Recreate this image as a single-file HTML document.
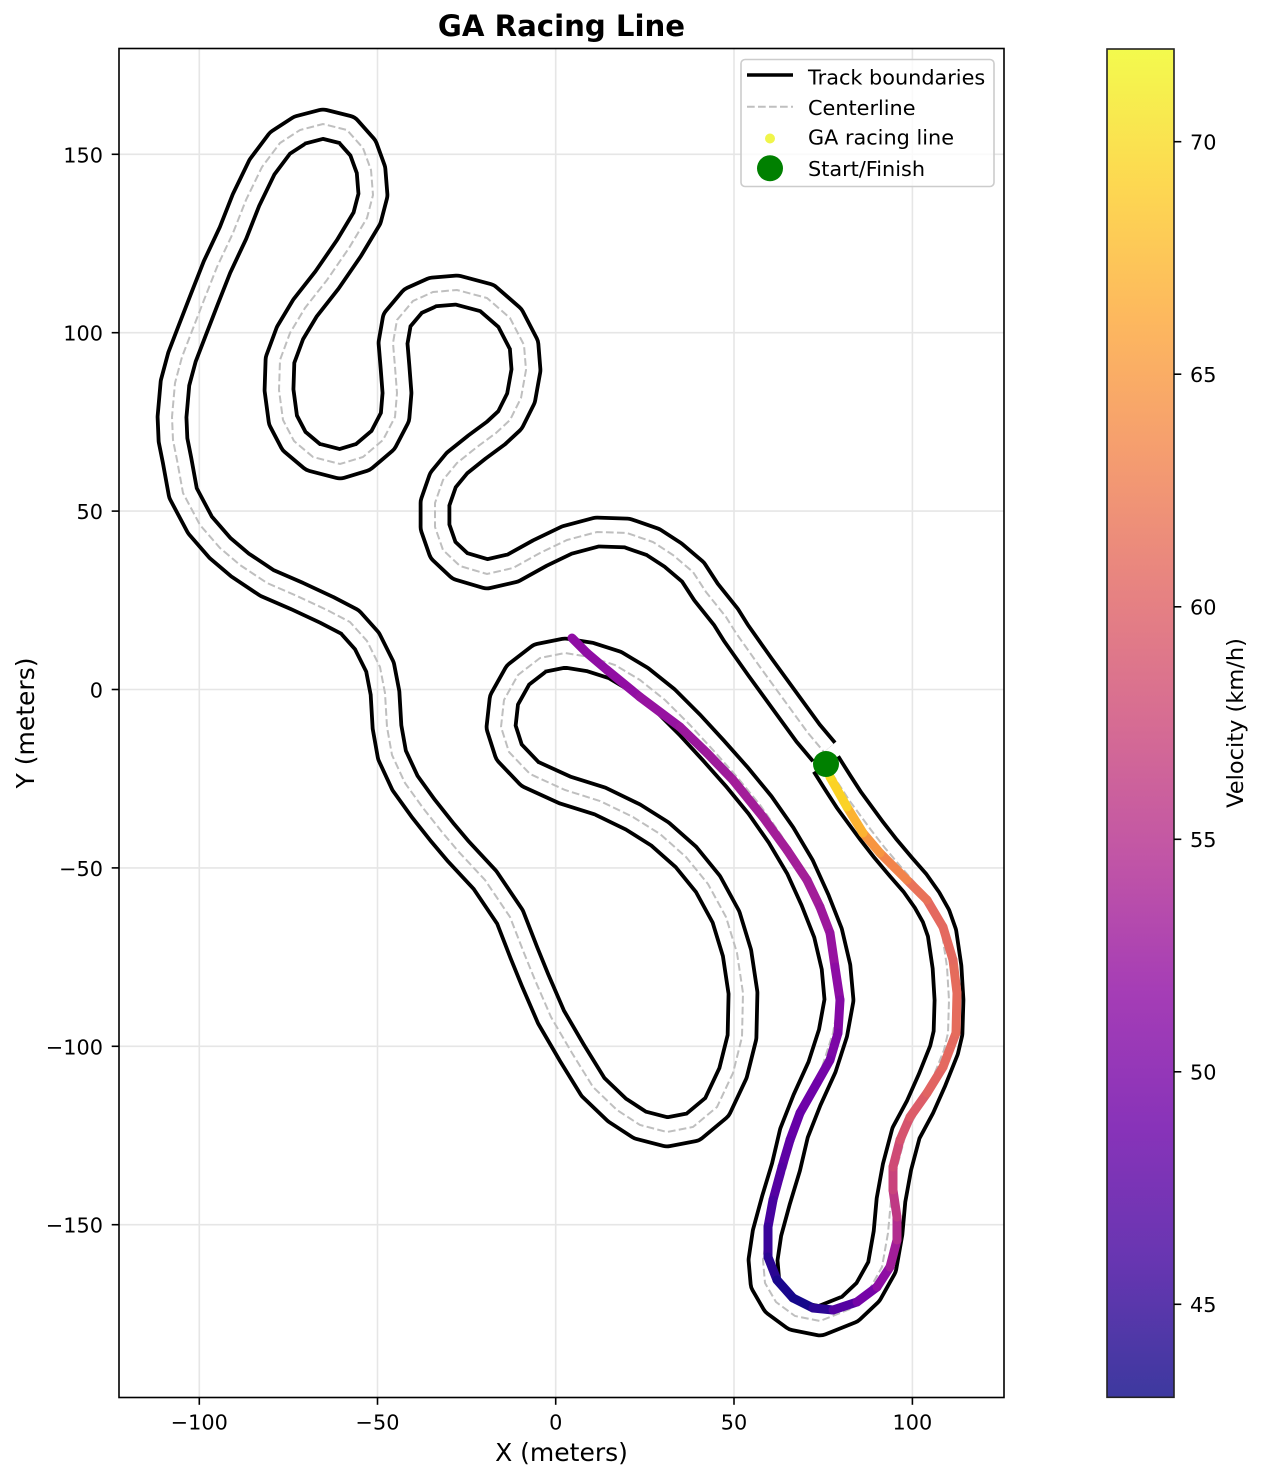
<!DOCTYPE html>
<html>
<head>
<meta charset="utf-8">
<style>
html,body{margin:0;padding:0;background:#fff}
svg{display:block}
text{font-family:"DejaVu Sans","Liberation Sans",sans-serif;fill:#000}
</style>
</head>
<body>
<svg width="1261" height="1480" viewBox="0 0 1261 1480" xmlns="http://www.w3.org/2000/svg">
<defs>
<linearGradient id="cb" x1="0" y1="0" x2="0" y2="1">
<stop offset="0" stop-color="#f3fa4d"/>
<stop offset="0.1" stop-color="#fdd851"/>
<stop offset="0.2" stop-color="#fdb85e"/>
<stop offset="0.3" stop-color="#f59d6f"/>
<stop offset="0.4" stop-color="#e78381"/>
<stop offset="0.5" stop-color="#d66c93"/>
<stop offset="0.6" stop-color="#c155a6"/>
<stop offset="0.7" stop-color="#a53db6"/>
<stop offset="0.8" stop-color="#8833b9"/>
<stop offset="0.9" stop-color="#6736b1"/>
<stop offset="1" stop-color="#3d399f"/>
</linearGradient>
<mask id="tm" maskUnits="userSpaceOnUse" x="0" y="0" width="1261" height="1480">
<path fill="none" stroke="#fff" stroke-width="32.6" stroke-linejoin="round" d="M826,764 L838,783 L849,800 L860,815 L871,830 L885,848 L901,867 L915,883 L927,900 L936,916 L942,933 L947,967 L949,1000 L948,1033 L944,1050 L932,1080 L920,1107 L906,1133 L897,1167 L891,1200 L888,1233 L882,1267 L868,1292 L850,1309 L820,1321 L795,1316 L776,1302 L765,1283 L763,1260 L767,1233 L776,1200 L786,1167 L794,1133 L807,1100 L822,1067 L833,1033 L839,1000 L836,967 L828,933 L815,900 L800,867 L781,835 L760,805 L737,777 L713,750 L690,725 L665,700 L640,680 L615,665 L590,657 L565,653 L540,658 L518,675 L504,700 L501,727 L509,752 L530,774 L565,790 L600,801 L633,817 L660,834 L686,857 L708,884 L726,917 L737,953 L743,993 L742,1037 L733,1073 L717,1107 L693,1127 L667,1132 L640,1125 L617,1110 L593,1087 L572,1053 L551,1017 L535,980 L524,953 L510,917 L485,880 L458,851 L442,832 L423,808 L405,783 L392,755 L387,727 L385,693 L380,667 L367,641 L350,622 L327,610 L297,596 L267,583 L240,565 L220,548 L200,525 L183,493 L177,460 L173,440 L172,417 L175,383 L182,357 L192,331 L204,300 L217,267 L233,233 L246,200 L262,167 L280,143 L300,130 L323,124 L347,130 L363,148 L371,170 L373,195 L367,218 L349,248 L327,280 L305,308 L290,333 L280,360 L279,390 L283,420 L294,441 L313,457 L340,464 L363,457 L383,440 L395,417 L397,393 L395,367 L393,343 L397,320 L413,301 L433,292 L457,290 L487,298 L510,318 L524,345 L526,370 L521,398 L510,420 L496,433 L477,447 L457,463 L443,480 L435,503 L435,527 L443,550 L460,566 L487,574 L513,568 L540,553 L567,540 L597,532 L627,533 L653,542 L673,555 L693,572 L706,592 L726,617 L736,633 L760,667 L784,700 L808,733 L824,752"/>
<path fill="none" stroke="#000" stroke-width="25" stroke-linejoin="round" d="M826,764 L838,783 L849,800 L860,815 L871,830 L885,848 L901,867 L915,883 L927,900 L936,916 L942,933 L947,967 L949,1000 L948,1033 L944,1050 L932,1080 L920,1107 L906,1133 L897,1167 L891,1200 L888,1233 L882,1267 L868,1292 L850,1309 L820,1321 L795,1316 L776,1302 L765,1283 L763,1260 L767,1233 L776,1200 L786,1167 L794,1133 L807,1100 L822,1067 L833,1033 L839,1000 L836,967 L828,933 L815,900 L800,867 L781,835 L760,805 L737,777 L713,750 L690,725 L665,700 L640,680 L615,665 L590,657 L565,653 L540,658 L518,675 L504,700 L501,727 L509,752 L530,774 L565,790 L600,801 L633,817 L660,834 L686,857 L708,884 L726,917 L737,953 L743,993 L742,1037 L733,1073 L717,1107 L693,1127 L667,1132 L640,1125 L617,1110 L593,1087 L572,1053 L551,1017 L535,980 L524,953 L510,917 L485,880 L458,851 L442,832 L423,808 L405,783 L392,755 L387,727 L385,693 L380,667 L367,641 L350,622 L327,610 L297,596 L267,583 L240,565 L220,548 L200,525 L183,493 L177,460 L173,440 L172,417 L175,383 L182,357 L192,331 L204,300 L217,267 L233,233 L246,200 L262,167 L280,143 L300,130 L323,124 L347,130 L363,148 L371,170 L373,195 L367,218 L349,248 L327,280 L305,308 L290,333 L280,360 L279,390 L283,420 L294,441 L313,457 L340,464 L363,457 L383,440 L395,417 L397,393 L395,367 L393,343 L397,320 L413,301 L433,292 L457,290 L487,298 L510,318 L524,345 L526,370 L521,398 L510,420 L496,433 L477,447 L457,463 L443,480 L435,503 L435,527 L443,550 L460,566 L487,574 L513,568 L540,553 L567,540 L597,532 L627,533 L653,542 L673,555 L693,572 L706,592 L726,617 L736,633 L760,667 L784,700 L808,733 L824,752"/>
</mask>
</defs>

<!-- grid -->
<g stroke="#e6e6e6" stroke-width="1.6">
<line x1="199.3" y1="48.5" x2="199.3" y2="1397.5"/>
<line x1="377.5" y1="48.5" x2="377.5" y2="1397.5"/>
<line x1="555.7" y1="48.5" x2="555.7" y2="1397.5"/>
<line x1="734" y1="48.5" x2="734" y2="1397.5"/>
<line x1="912.4" y1="48.5" x2="912.4" y2="1397.5"/>
<line x1="119" y1="154.3" x2="1004" y2="154.3"/>
<line x1="119" y1="332.7" x2="1004" y2="332.7"/>
<line x1="119" y1="511.1" x2="1004" y2="511.1"/>
<line x1="119" y1="689.5" x2="1004" y2="689.5"/>
<line x1="119" y1="867.9" x2="1004" y2="867.9"/>
<line x1="119" y1="1046.3" x2="1004" y2="1046.3"/>
<line x1="119" y1="1224.7" x2="1004" y2="1224.7"/>
</g>

<!-- track boundaries -->
<rect x="0" y="0" width="1261" height="1480" fill="#000" mask="url(#tm)"/>

<!-- centerline -->
<path fill="none" stroke="#bfbfbf" stroke-width="2" stroke-dasharray="7.7,3.3" d="M826,764 L838,783 L849,800 L860,815 L871,830 L885,848 L901,867 L915,883 L927,900 L936,916 L942,933 L947,967 L949,1000 L948,1033 L944,1050 L932,1080 L920,1107 L906,1133 L897,1167 L891,1200 L888,1233 L882,1267 L868,1292 L850,1309 L820,1321 L795,1316 L776,1302 L765,1283 L763,1260 L767,1233 L776,1200 L786,1167 L794,1133 L807,1100 L822,1067 L833,1033 L839,1000 L836,967 L828,933 L815,900 L800,867 L781,835 L760,805 L737,777 L713,750 L690,725 L665,700 L640,680 L615,665 L590,657 L565,653 L540,658 L518,675 L504,700 L501,727 L509,752 L530,774 L565,790 L600,801 L633,817 L660,834 L686,857 L708,884 L726,917 L737,953 L743,993 L742,1037 L733,1073 L717,1107 L693,1127 L667,1132 L640,1125 L617,1110 L593,1087 L572,1053 L551,1017 L535,980 L524,953 L510,917 L485,880 L458,851 L442,832 L423,808 L405,783 L392,755 L387,727 L385,693 L380,667 L367,641 L350,622 L327,610 L297,596 L267,583 L240,565 L220,548 L200,525 L183,493 L177,460 L173,440 L172,417 L175,383 L182,357 L192,331 L204,300 L217,267 L233,233 L246,200 L262,167 L280,143 L300,130 L323,124 L347,130 L363,148 L371,170 L373,195 L367,218 L349,248 L327,280 L305,308 L290,333 L280,360 L279,390 L283,420 L294,441 L313,457 L340,464 L363,457 L383,440 L395,417 L397,393 L395,367 L393,343 L397,320 L413,301 L433,292 L457,290 L487,298 L510,318 L524,345 L526,370 L521,398 L510,420 L496,433 L477,447 L457,463 L443,480 L435,503 L435,527 L443,550 L460,566 L487,574 L513,568 L540,553 L567,540 L597,532 L627,533 L653,542 L673,555 L693,572 L706,592 L726,617 L736,633 L760,667 L784,700 L808,733 L824,752"/>

<!-- racing line -->
<g stroke-width="9" stroke-linecap="round" fill="none">
<line x1="572" y1="638" x2="587" y2="653" stroke="#8f0da4"/>
<line x1="587" y1="653" x2="607" y2="670" stroke="#8f0da4"/>
<line x1="607" y1="670" x2="640" y2="697" stroke="#910ea3"/>
<line x1="640" y1="697" x2="680" y2="727" stroke="#9613a0"/>
<line x1="680" y1="727" x2="707" y2="753" stroke="#9b179d"/>
<line x1="707" y1="753" x2="733" y2="780" stroke="#9e1a9b"/>
<line x1="733" y1="780" x2="763" y2="817" stroke="#a21d99"/>
<line x1="763" y1="817" x2="787" y2="850" stroke="#a31e98"/>
<line x1="787" y1="850" x2="807" y2="880" stroke="#a31e98"/>
<line x1="807" y1="880" x2="820" y2="907" stroke="#a21d99"/>
<line x1="820" y1="907" x2="830" y2="933" stroke="#9d199c"/>
<line x1="830" y1="933" x2="835" y2="967" stroke="#9613a0"/>
<line x1="835" y1="967" x2="840" y2="1000" stroke="#8d0ca4"/>
<line x1="840" y1="1000" x2="838" y2="1033" stroke="#8409a5"/>
<line x1="838" y1="1033" x2="830" y2="1060" stroke="#7c07a6"/>
<line x1="830" y1="1060" x2="817" y2="1083" stroke="#7504a7"/>
<line x1="817" y1="1083" x2="800" y2="1113" stroke="#6e01a8"/>
<line x1="800" y1="1113" x2="790" y2="1140" stroke="#6600a7"/>
<line x1="790" y1="1140" x2="782" y2="1167" stroke="#5e01a5"/>
<line x1="782" y1="1167" x2="773" y2="1200" stroke="#5402a2"/>
<line x1="773" y1="1200" x2="768" y2="1227" stroke="#47039f"/>
<line x1="768" y1="1227" x2="768" y2="1257" stroke="#39059a"/>
<line x1="768" y1="1257" x2="777" y2="1280" stroke="#2a0693"/>
<line x1="777" y1="1280" x2="793" y2="1298" stroke="#1a078d"/>
<line x1="793" y1="1298" x2="813" y2="1308" stroke="#15078a"/>
<line x1="813" y1="1308" x2="833" y2="1310" stroke="#2c0694"/>
<line x1="833" y1="1310" x2="857" y2="1302" stroke="#5402a2"/>
<line x1="857" y1="1302" x2="877" y2="1287" stroke="#7504a7"/>
<line x1="877" y1="1287" x2="890" y2="1267" stroke="#8f0da4"/>
<line x1="890" y1="1267" x2="897" y2="1240" stroke="#a21d99"/>
<line x1="897" y1="1240" x2="897" y2="1217" stroke="#b22c8f"/>
<line x1="897" y1="1217" x2="893" y2="1190" stroke="#bf3984"/>
<line x1="893" y1="1190" x2="893" y2="1167" stroke="#c9437c"/>
<line x1="893" y1="1167" x2="900" y2="1140" stroke="#cf4b75"/>
<line x1="900" y1="1140" x2="910" y2="1117" stroke="#d6546e"/>
<line x1="910" y1="1117" x2="927" y2="1093" stroke="#dc5d68"/>
<line x1="927" y1="1093" x2="943" y2="1067" stroke="#e16462"/>
<line x1="943" y1="1067" x2="956" y2="1033" stroke="#e4695f"/>
<line x1="956" y1="1033" x2="957" y2="993" stroke="#e56c5c"/>
<line x1="957" y1="993" x2="953" y2="960" stroke="#e56c5c"/>
<line x1="953" y1="960" x2="943" y2="927" stroke="#e4695f"/>
<line x1="943" y1="927" x2="927" y2="900" stroke="#e4695f"/>
<line x1="927" y1="900" x2="907" y2="880" stroke="#e97259"/>
<line x1="907" y1="880" x2="880" y2="853" stroke="#f2844b"/>
<line x1="880" y1="853" x2="863" y2="833" stroke="#f79540"/>
<line x1="863" y1="833" x2="847" y2="807" stroke="#fcb231"/>
<line x1="847" y1="807" x2="830" y2="777" stroke="#fbd225"/>
<line x1="830" y1="777" x2="826" y2="764" stroke="#f8db24"/>
</g>

<!-- start/finish -->
<circle cx="826" cy="764" r="13" fill="#008000"/>

<!-- axes frame -->
<rect x="119" y="48.5" width="885" height="1349" fill="none" stroke="#000" stroke-width="1.6"/>

<!-- ticks -->
<g stroke="#000" stroke-width="1.6">
<line x1="199.3" y1="1397.5" x2="199.3" y2="1404.8"/>
<line x1="377.5" y1="1397.5" x2="377.5" y2="1404.8"/>
<line x1="555.7" y1="1397.5" x2="555.7" y2="1404.8"/>
<line x1="734" y1="1397.5" x2="734" y2="1404.8"/>
<line x1="912.4" y1="1397.5" x2="912.4" y2="1404.8"/>
<line x1="111.7" y1="154.3" x2="119" y2="154.3"/>
<line x1="111.7" y1="332.7" x2="119" y2="332.7"/>
<line x1="111.7" y1="511.1" x2="119" y2="511.1"/>
<line x1="111.7" y1="689.5" x2="119" y2="689.5"/>
<line x1="111.7" y1="867.9" x2="119" y2="867.9"/>
<line x1="111.7" y1="1046.3" x2="119" y2="1046.3"/>
<line x1="111.7" y1="1224.7" x2="119" y2="1224.7"/>
</g>
<g font-size="20.8" text-anchor="middle">
<text x="199.3" y="1429.5">−100</text>
<text x="377.5" y="1429.5">−50</text>
<text x="555.7" y="1429.5">0</text>
<text x="734" y="1429.5">50</text>
<text x="912.4" y="1429.5">100</text>
</g>
<g font-size="20.8" text-anchor="end">
<text x="103" y="162.3">150</text>
<text x="103" y="340.7">100</text>
<text x="103" y="519.1">50</text>
<text x="103" y="697.5">0</text>
<text x="103" y="875.9">−50</text>
<text x="103" y="1054.3">−100</text>
<text x="103" y="1232.7">−150</text>
</g>

<!-- labels & title -->
<text x="561.5" y="36" font-size="29.2" font-weight="bold" text-anchor="middle">GA Racing Line</text>
<text x="561.5" y="1461" font-size="25" text-anchor="middle">X (meters)</text>
<text transform="translate(34,723) rotate(-90)" font-size="25" text-anchor="middle">Y (meters)</text>

<!-- legend -->
<rect x="741" y="59.5" width="253" height="127" rx="4" ry="4" fill="#fff" fill-opacity="0.8" stroke="#cccccc" stroke-width="1.6"/>
<line x1="747" y1="75" x2="793" y2="75" stroke="#000" stroke-width="3.5"/>
<line x1="747" y1="106.7" x2="793" y2="106.7" stroke="#bfbfbf" stroke-width="2" stroke-dasharray="7.7,3.3"/>
<circle cx="770" cy="138.5" r="5" fill="#f0f54a"/>
<circle cx="770" cy="168.3" r="13" fill="#008000"/>
<g font-size="20.8">
<text x="808" y="84.3">Track boundaries</text>
<text x="808" y="115">Centerline</text>
<text x="808" y="144.4">GA racing line</text>
<text x="808" y="176">Start/Finish</text>
</g>

<!-- colorbar -->
<rect x="1107" y="49" width="67" height="1348.3" fill="url(#cb)" stroke="#222" stroke-width="1.6"/>
<g stroke="#000" stroke-width="1.6">
<line x1="1174" y1="141.7" x2="1181.3" y2="141.7"/>
<line x1="1174" y1="374.2" x2="1181.3" y2="374.2"/>
<line x1="1174" y1="606.8" x2="1181.3" y2="606.8"/>
<line x1="1174" y1="839.3" x2="1181.3" y2="839.3"/>
<line x1="1174" y1="1071.8" x2="1181.3" y2="1071.8"/>
<line x1="1174" y1="1304.3" x2="1181.3" y2="1304.3"/>
</g>
<g font-size="20.8">
<text x="1190" y="149.3">70</text>
<text x="1190" y="381.8">65</text>
<text x="1190" y="614.4">60</text>
<text x="1190" y="846.9">55</text>
<text x="1190" y="1079.4">50</text>
<text x="1190" y="1311.9">45</text>
</g>
<text transform="translate(1243,723) rotate(-90)" font-size="22.5" text-anchor="middle">Velocity (km/h)</text>
</svg>
</body>
</html>
